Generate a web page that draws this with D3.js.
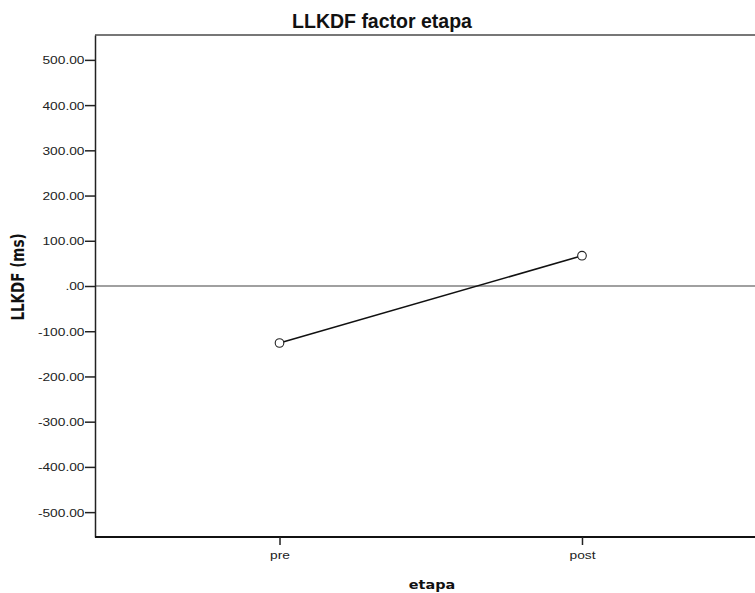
<!DOCTYPE html>
<html><head><meta charset="utf-8">
<script src="https://cdn.jsdelivr.net/npm/d3@7"></script>
<style>body{margin:0;background:#fff;overflow:hidden}</style>
</head><body>
<svg id="c" width="755" height="593"></svg>
<script>
const categories = ["pre", "post"];
const values = [-126, 67];
const yTicks = [-500, -400, -300, -200, -100, 0, 100, 200, 300, 400, 500];
const yDomain = [-555, 555];

const W = 755, H = 593;
const m = {left: 95, top: 35, right: 766.5, bottom: 537};
const svg = d3.select("#c");
const SX = 1.25;

const x = d3.scalePoint().domain(categories).range([m.left, m.right]).padding(0.61);
const y = d3.scaleLinear().domain(yDomain).range([m.bottom, m.top]);

const fmt = d => d === 0 ? ".00" : (d < 0 ? "-" : "") + Math.abs(d).toFixed(2);

// frame (top border)
svg.append("line").attr("x1", m.left).attr("x2", W).attr("y1", m.top).attr("y2", m.top)
  .attr("stroke", "#777").attr("stroke-width", 2);

// zero reference line
svg.append("line").attr("x1", m.left).attr("x2", W).attr("y1", y(0)).attr("y2", y(0))
  .attr("stroke", "#808080").attr("stroke-width", 1.5);

// Y axis
const gy = svg.append("g").attr("transform", `translate(${m.left},0)`)
  .call(d3.axisLeft(y).tickValues(yTicks).tickSize(10).tickSizeOuter(0).tickFormat(fmt));
gy.select(".domain").attr("stroke", "#222").attr("stroke-width", 1.5);
gy.selectAll(".tick line").attr("stroke", "#222").attr("stroke-width", 1.5);
gy.selectAll(".tick text").attr("x", 0).attr("dy", "0.36em")
  .attr("transform", `translate(-10.5,0) scale(${SX},1)`)
  .attr("font-family", "Liberation Sans, Arial, sans-serif").attr("font-size", 11).attr("fill", "#222");

// X axis
const gx = svg.append("g").attr("transform", `translate(0,${m.bottom})`)
  .call(d3.axisBottom(x).tickSize(8).tickSizeOuter(0));
gx.select(".domain").attr("d", `M${m.left},0H${W}`).attr("stroke", "#111").attr("stroke-width", 2);
gx.selectAll(".tick line").attr("stroke", "#222").attr("stroke-width", 1.5);
gx.selectAll(".tick text").attr("y", 22).attr("dy", 0)
  .attr("transform", `scale(${SX},1)`)
  .attr("font-family", "Liberation Sans, Arial, sans-serif").attr("font-size", 11).attr("fill", "#222");

// line + markers
const pts = categories.map((c, i) => ({c, v: values[i]}));
svg.append("path").datum(pts)
  .attr("d", d3.line().x(d => x(d.c)).y(d => y(d.v)))
  .attr("fill", "none").attr("stroke", "#111").attr("stroke-width", 1.6);
svg.selectAll("circle.pt").data(pts).join("circle").attr("class", "pt")
  .attr("cx", d => x(d.c)).attr("cy", d => y(d.v)).attr("r", 4.3)
  .attr("fill", "#fff").attr("stroke", "#222").attr("stroke-width", 1.1);

// Title
svg.append("text").attr("x", 382).attr("y", 28).attr("text-anchor", "middle")
  .attr("font-family", "Liberation Sans, Arial, sans-serif").attr("font-weight", "bold")
  .attr("font-size", 19.5).attr("fill", "#111").text("LLKDF factor etapa");

// axis titles
svg.append("text").attr("transform", `translate(432,589) scale(1.2,1)`).attr("text-anchor", "middle")
  .attr("font-family", "DejaVu Sans, sans-serif").attr("font-weight", "bold")
  .attr("font-size", 12).attr("fill", "#111").text("etapa");
svg.append("text").attr("transform", `translate(23.5,277) scale(1.3,1) rotate(-90)`).attr("text-anchor", "middle")
  .attr("font-family", "DejaVu Sans, sans-serif").attr("font-weight", "bold")
  .attr("font-size", 13.5).attr("fill", "#111").text("LLKDF (ms)");
</script>
</body></html>
